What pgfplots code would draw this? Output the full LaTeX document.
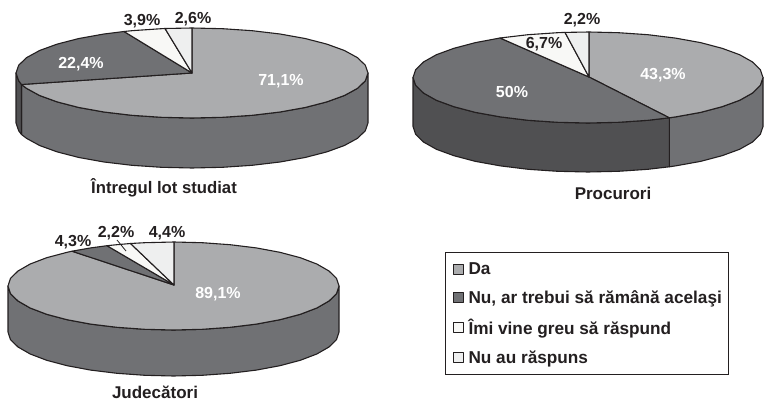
\documentclass[border=0pt]{standalone}
\usepackage{pgfplots}
\pgfplotsset{compat=1.18}
\usepackage{fontspec}
\setmainfont{Liberation Sans}
\definecolor{cDa}{HTML}{ABACAE}
\definecolor{cNu}{HTML}{707174}
\definecolor{cNuSide}{HTML}{505052}
\definecolor{cIm}{HTML}{F8F8F6}
\definecolor{cNa}{HTML}{EEEFEF}
\definecolor{ink}{HTML}{231F20}
\begin{document}
\begin{tikzpicture}
\begin{axis}[
  width=764bp,height=402bp,scale only axis,
  xmin=0,xmax=764,ymin=0,ymax=402,y dir=reverse,
  hide axis,clip=false,
  area legend,
  legend image code/.code={\draw[#1,line width=0.9pt] (0bp,-5bp) rectangle (10bp,5bp);},
  legend cell align=left,
  legend style={at={(0.5825,0.3731)},anchor=north west,draw=ink,line width=1.2pt,
    font=\fontsize{17.2bp}{18bp}\selectfont\bfseries\color{ink},
    row sep=14.5bp,inner xsep=7bp,inner ysep=10bp,
    nodes={inner sep=0pt},/tikz/every odd column/.append style={column sep=5bp}},
  every axis plot/.append style={draw=ink,line width=1.1pt,line join=round},
]
\path (axis cs:0,0) rectangle (axis cs:764,402);
% ---------- Intregul lot studiat: sides
\addplot[forget plot,fill=cNu] coordinates {(368,73)(365.3,80.8)(357.4,88.4)(344.4,95.5)(326.8,101.9)(305.1,107.5)(280,112)(252.2,115.3)(222.6,117.3)(192,118)(161.4,117.3)(131.8,115.3)(104,112)(78.9,107.5)(57.2,101.9)(39.6,95.5)(26.6,88.4)(21.5,84.5)(21.5,134.5)(26.6,138.4)(39.6,145.5)(57.2,151.9)(78.9,157.5)(104,162)(131.8,165.3)(161.4,167.3)(192,168)(222.6,167.3)(252.2,165.3)(280,162)(305.1,157.5)(326.8,151.9)(344.4,145.5)(357.4,138.4)(365.3,130.8)(368,123)} -- cycle;
\addplot[forget plot,fill=cNuSide] coordinates {(21.5,84.5)(18.7,80.8)(16,73)(16,123)(18.7,130.8)(21.5,134.5)} -- cycle;
% ---------- Intregul lot studiat: top
\addplot[fill=cDa] coordinates {(192,73)(192,28)(222.6,28.7)(252.2,30.7)(280,34)(305.1,38.5)(326.8,44.1)(344.4,50.5)(357.4,57.6)(365.3,65.2)(368,73)(365.3,80.8)(357.4,88.4)(344.4,95.5)(326.8,101.9)(305.1,107.5)(280,112)(252.2,115.3)(222.6,117.3)(192,118)(161.4,117.3)(131.8,115.3)(104,112)(78.9,107.5)(57.2,101.9)(39.6,95.5)(26.6,88.4)(21.5,84.5)} -- cycle;
\addlegendentry{Da}
\addplot[fill=cNu] coordinates {(192,73)(21.5,84.5)(18.7,80.8)(16,73)(18.7,65.2)(26.6,57.6)(39.6,50.5)(57.2,44.1)(78.9,38.5)(104,34)(124,31.5)} -- cycle;
\addlegendentry{Nu, ar trebui să rămână acelaşi\hspace{12bp}}
\addplot[fill=cIm] coordinates {(192,73)(124,31.5)(131.8,30.7)(161.4,28.7)(165,28.5)} -- cycle;
\addlegendentry{Îmi vine greu să răspund}
\addplot[fill=cNa] coordinates {(192,73)(165,28.5)(192,28)} -- cycle;
\addlegendentry{Nu au răspuns}
% ---------- Procurori: sides
\addplot[forget plot,fill=cNu] coordinates {(763,77.5)(760.3,85.4)(752.4,93.1)(739.6,100.3)(722.1,106.7)(700.5,112.4)(675.5,116.9)(669.3,117.8)(669.3,166.8)(675.5,165.9)(700.5,161.4)(722.1,155.7)(739.6,149.3)(752.4,142.1)(760.3,134.4)(763,126.5)} -- cycle;
\addplot[forget plot,fill=cNuSide] coordinates {(669.3,117.8)(647.9,120.3)(618.4,122.3)(588,123)(557.6,122.3)(528.1,120.3)(500.5,116.9)(475.5,112.4)(453.9,106.7)(436.4,100.3)(423.6,93.1)(415.7,85.4)(413,77.5)(413,126.5)(415.7,134.4)(423.6,142.1)(436.4,149.3)(453.9,155.7)(475.5,161.4)(500.5,165.9)(528.1,169.3)(557.6,171.3)(588,172)(618.4,171.3)(647.9,169.3)(669.3,166.8)} -- cycle;
% ---------- Procurori: top
\addplot[forget plot,fill=cDa] coordinates {(589,77)(589,32)(618.4,32.7)(647.9,34.7)(675.5,38.1)(700.5,42.6)(722.1,48.3)(739.6,54.7)(752.4,61.9)(760.3,69.6)(763,77.5)(760.3,85.4)(752.4,93.1)(739.6,100.3)(722.1,106.7)(700.5,112.4)(675.5,116.9)(669.3,117.8)} -- cycle;
\addplot[forget plot,fill=cNu] coordinates {(589,77)(669.3,117.8)(647.9,120.3)(618.4,122.3)(588,123)(557.6,122.3)(528.1,120.3)(500.5,116.9)(475.5,112.4)(453.9,106.7)(436.4,100.3)(423.6,93.1)(415.7,85.4)(413,77.5)(415.7,69.6)(423.6,61.9)(436.4,54.7)(453.9,48.3)(475.5,42.6)(500,38)} -- cycle;
\addplot[forget plot,fill=cIm] coordinates {(589,77)(500,38)(528.1,34.7)(557.6,32.7)(565,32.4)} -- cycle;
\addplot[forget plot,fill=cNa] coordinates {(589,77)(565,32.4)(589,32)} -- cycle;
% ---------- Judecatori: side
\addplot[forget plot,fill=cNu] coordinates {(339,286)(336.5,293.6)(329,301)(316.8,308)(300.3,314.3)(279.9,319.7)(256.3,324.1)(230.1,327.3)(202.2,329.3)(173.5,330)(144.8,329.3)(116.9,327.3)(90.7,324.1)(67.1,319.7)(46.7,314.3)(30.2,308)(18,301)(10.5,293.6)(8,286)(8,332)(10.5,339.6)(18,347)(30.2,354)(46.7,360.3)(67.1,365.7)(90.7,370.1)(116.9,373.3)(144.8,375.3)(173.5,376)(202.2,375.3)(230.1,373.3)(256.3,370.1)(279.9,365.7)(300.3,360.3)(316.8,354)(329,347)(336.5,339.6)(339,332)} -- cycle;
% ---------- Judecatori: top
\addplot[forget plot,fill=cDa] coordinates {(174,285)(174,242)(202.2,242.7)(230.1,244.7)(256.3,247.9)(279.9,252.3)(300.3,257.7)(316.8,264)(329,271)(336.5,278.4)(339,286)(336.5,293.6)(329,301)(316.8,308)(300.3,314.3)(279.9,319.7)(256.3,324.1)(230.1,327.3)(202.2,329.3)(173.5,330)(144.8,329.3)(116.9,327.3)(90.7,324.1)(67.1,319.7)(46.7,314.3)(30.2,308)(18,301)(10.5,293.6)(8,286)(10.5,278.4)(18,271)(30.2,264)(46.7,257.7)(67.1,252.3)(72,251.2)} -- cycle;
\addplot[forget plot,fill=cNu] coordinates {(174,285)(72,251.2)(90.7,247.9)(107,245.7)} -- cycle;
\addplot[forget plot,fill=cIm] coordinates {(174,285)(107,245.7)(116.9,244.7)(130.5,243.5)} -- cycle;
\addplot[forget plot,fill=cNa] coordinates {(174,285)(130.5,243.5)(144.8,242.7)(174,242)} -- cycle;
% leader line
\addplot[forget plot,line width=0.8pt] coordinates {(117,240)(126,251)};
% ---------- labels
\tikzset{lab/.style={font=\fontsize{16bp}{18bp}\selectfont\bfseries,text=ink,inner sep=0pt,anchor=center},
         wlab/.style={lab,text=white}}
\node[lab] at (axis cs:142,21) {3,9\%};
\node[lab] at (axis cs:193,19) {2,6\%};
\node[wlab] at (axis cs:81,64) {22,4\%};
\node[wlab] at (axis cs:281,81) {71,1\%};
\node[lab] at (axis cs:582,20) {2,2\%};
\node[lab] at (axis cs:544,44) {6,7\%};
\node[wlab] at (axis cs:663,75) {43,3\%};
\node[wlab] at (axis cs:512,92) {50\%};
\node[lab] at (axis cs:73,242) {4,3\%};
\node[lab] at (axis cs:116,233) {2,2\%};
\node[lab] at (axis cs:167,233) {4,4\%};
\node[wlab] at (axis cs:218,294) {89,1\%};
\node[lab,font=\fontsize{16.7bp}{18bp}\selectfont\bfseries] at (axis cs:164,188) {Întregul lot studiat};
\node[lab,font=\fontsize{17bp}{18bp}\selectfont\bfseries] at (axis cs:613,193) {Procurori};
\node[lab,font=\fontsize{17bp}{18bp}\selectfont\bfseries] at (axis cs:155,392.5) {Judecători};
\end{axis}
\end{tikzpicture}
\end{document}
